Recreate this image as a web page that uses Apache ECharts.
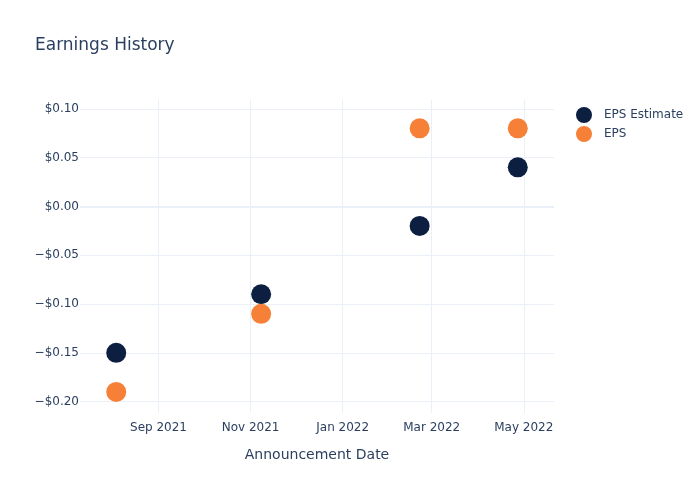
<!DOCTYPE html>
<html>
<head>
<meta charset="utf-8">
<script src="https://cdn.jsdelivr.net/npm/echarts@6/dist/echarts.min.js"></script>
<style>html,body{margin:0;padding:0;background:#fff;}#main{width:700px;height:500px;}</style>
</head>
<body>
<div id="main"></div>
<script>
const dates = ['2021-08-04', '2021-11-08', '2022-02-21', '2022-04-27'];
const epsEstimate = [-0.15, -0.09, -0.02, 0.04];
const epsActual = [-0.19, -0.11, 0.08, 0.08];
const xRange = ['2021-07-11', '2022-05-21'];
const yRange = [-0.2116, 0.109];
const monthNames = ['Jan','Feb','Mar','Apr','May','Jun','Jul','Aug','Sep','Oct','Nov','Dec'];

function toTs(s) { const p = s.split('-').map(Number); return Date.UTC(p[0], p[1] - 1, p[2]); }
function money(v) { return (v < 0 ? '\u2212$' : '$') + Math.abs(v).toFixed(2); }

const textColor = '#2a3f5f';
const gridColor = '#EBF0F8';
const font = 'DejaVu Sans';

const chart = echarts.init(document.getElementById('main'), null, { renderer: 'canvas' });
chart.setOption({
  useUTC: true,
  animation: false,
  backgroundColor: '#fff',
  textStyle: { fontFamily: font, color: textColor },
  title: {
    text: 'Earnings History', left: 35, top: 37, padding: 0,
    textStyle: { fontFamily: font, fontSize: 17, fontWeight: 'normal', color: textColor }
  },
  legend: {
    orient: 'vertical', left: 571, top: 102, itemWidth: 30, itemHeight: 16, itemGap: 3,
    textStyle: { fontFamily: font, fontSize: 12, color: textColor },
    data: [{ name: 'EPS Estimate', icon: 'circle' }, { name: 'EPS', icon: 'circle' }]
  },
  grid: { left: 80, right: 146, top: 100, bottom: 87, containLabel: false },
  xAxis: {
    type: 'time', min: toTs(xRange[0]), max: toTs(xRange[1]), splitNumber: 5,
    name: 'Announcement Date', nameLocation: 'middle', nameGap: 35,
    nameTextStyle: { fontFamily: font, fontSize: 14, color: textColor },
    axisLine: { show: false }, axisTick: { show: false },
    axisLabel: {
      fontFamily: font, fontSize: 12, color: textColor, margin: 9,
      showMinLabel: false, showMaxLabel: false,
      formatter: function (v) { const d = new Date(v); return monthNames[d.getUTCMonth()] + ' ' + d.getUTCFullYear(); },
      rich: {}
    },
    splitLine: { show: true, showMinLine: false, showMaxLine: false, lineStyle: { color: gridColor, width: 1 } }
  },
  yAxis: {
    type: 'value', min: yRange[0], max: yRange[1],
    axisLine: { show: false }, axisTick: { show: false },
    axisLabel: {
      fontFamily: font, fontSize: 12, color: textColor, margin: 1,
      showMinLabel: false, showMaxLabel: false,
      formatter: function (v) {
        const r = Math.round(v * 100) / 100;
        if (Math.abs(r * 20 - Math.round(r * 20)) > 1e-6) return '';
        return money(r);
      }
    },
    splitLine: { show: true, showMinLine: false, showMaxLine: false, lineStyle: { color: gridColor, width: 1 } }
  },
  series: [
    {
      name: 'EPS Estimate', type: 'scatter', symbol: 'circle', symbolSize: 20,
      itemStyle: { color: '#0c1f40', opacity: 1 },
      data: dates.map((d, i) => [toTs(d), epsEstimate[i]]),
      markLine: {
        silent: true, symbol: 'none', label: { show: false },
        lineStyle: { color: gridColor, width: 2, type: 'solid' },
        data: [{ yAxis: 0 }], z: 0
      },
      z: 3
    },
    {
      name: 'EPS', type: 'scatter', symbol: 'circle', symbolSize: 20,
      itemStyle: { color: '#f68038', opacity: 1 },
      data: dates.map((d, i) => [toTs(d), epsActual[i]]),
      z: 3
    }
  ]
});
</script>
</body>
</html>
